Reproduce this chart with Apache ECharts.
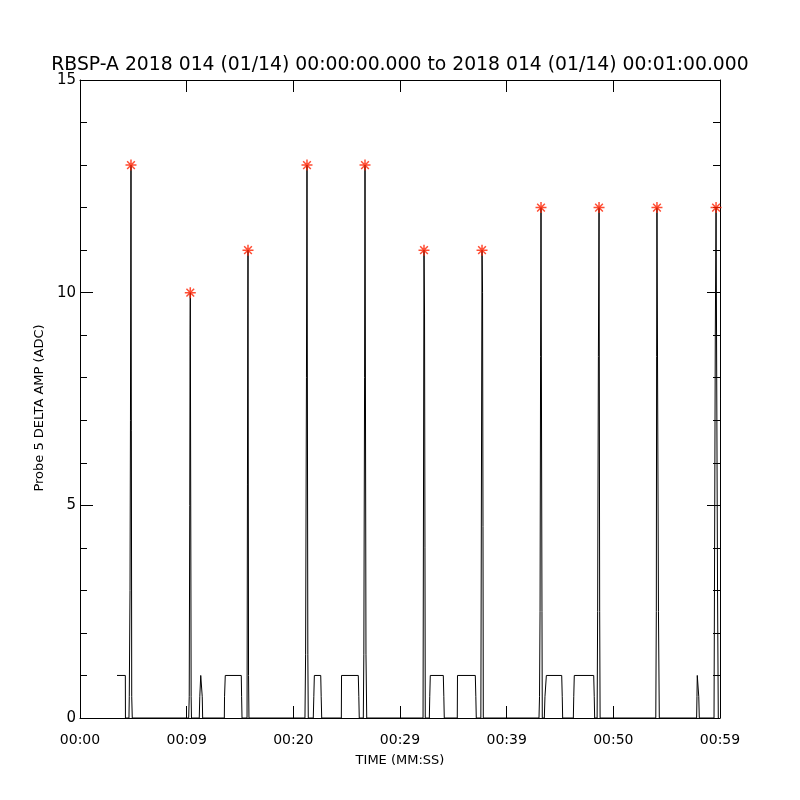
<!DOCTYPE html>
<html>
<head>
<meta charset="utf-8">
<script src="https://cdn.jsdelivr.net/npm/echarts@6/dist/echarts.min.js"></script>
<style>
  html, body { margin: 0; padding: 0; background: #fff; }
  #main { width: 800px; height: 800px; }
</style>
</head>
<body>
<div id="main"></div>
<script>
// time axis in seconds from 00:00:00, tick labels as printed on the plot
var xTickLabels = ["00:00", "00:09", "00:20", "00:29", "00:39", "00:50", "00:59"];

// probe 5 delta amplitude trace (seconds, ADC)
var sigT = [
  3.47, 4.25, 4.26, 4.59, 4.62, 4.69, 4.73, 4.78, 4.85, 4.90,
  10.19, 10.24, 10.29, 10.32, 10.34, 10.42, 10.45,
  11.18, 11.23, 11.32, 11.41, 11.46, 11.50,
  13.53, 13.55, 13.62, 15.12, 15.15, 15.19,
  15.66, 15.70, 15.73, 15.75, 15.80, 15.84,
  21.09, 21.15, 21.23, 21.28, 21.36, 21.40,
  21.87, 21.92, 21.97, 22.57, 22.61, 22.66,
  24.50, 24.52, 26.09, 26.14, 26.18,
  26.56, 26.61, 26.68, 26.72, 26.81, 26.88,
  32.16, 32.25, 32.30, 32.34, 32.37,
  32.75, 32.79, 32.84, 34.06, 34.11, 34.15,
  35.37, 35.39, 37.06, 37.11, 37.15,
  37.58, 37.69, 37.74, 37.78, 37.81,
  43.03, 43.08, 43.13, 43.18, 43.22, 43.31, 43.34,
  43.53, 43.59, 43.72, 45.16, 45.21, 45.25,
  46.25, 46.29, 46.34, 48.16, 48.21, 48.25,
  48.48, 48.53, 48.60, 48.66, 48.72, 48.76,
  53.98, 54.03, 54.06, 54.09, 54.23, 54.31,
  57.81, 57.84, 57.87, 57.97, 58.01, 58.06,
  59.44, 59.48, 59.56, 59.63, 59.77, 59.84, 59.91
];
var sigV = [
  1, 1, 0, 0, 0.5, 3, 7, 13, 0.5, 0,
  0, 0.5, 5, 9, 10, 0.5, 0,
  0, 0.5, 1, 1, 0.5, 0,
  0, 0.5, 1, 1, 0.5, 0,
  0, 5.5, 9.5, 11, 1, 0,
  0, 1.5, 8, 13, 1.5, 0,
  0, 0.5, 1, 1, 0.5, 0,
  0, 1, 1, 0.5, 0,
  0, 1.5, 8, 13, 1.5, 0,
  0, 11, 9.5, 4, 0,
  0, 0.5, 1, 1, 0.5, 0,
  0, 1, 1, 0.5, 0,
  0, 11, 10, 4.5, 0,
  0, 0.5, 2.5, 8.5, 12, 2.5, 0,
  0, 0.5, 1, 1, 0.5, 0,
  0, 0.5, 1, 1, 0.5, 0,
  0, 2.5, 8.5, 12, 2.5, 0,
  0, 2.5, 8.5, 12, 2.5, 0,
  0, 0.5, 1, 1, 0.5, 0,
  0, 3, 9, 12, 3, 0, 0
];

// spike maxima marked with red asterisks
var peakT = [4.78, 10.34, 15.75, 21.28, 26.72, 32.25, 37.69, 43.22, 48.66, 54.09, 59.63];
var peakV = [13, 10, 11, 13, 13, 11, 11, 12, 12, 12, 12];

var trace = sigT.map(function (t, i) { return [t, sigV[i]]; });
var peaks = peakT.map(function (t, i) { return [t, peakV[i]]; });

var FONT = "DejaVu Sans";
var asterisk = "path://M0,5L10,5M5,0L5,10M1.5,1.5L8.5,8.5M8.5,1.5L1.5,8.5";

var myChart = echarts.init(document.getElementById("main"));

function frameX(pos, showLabel) {
  return {
    type: "value",
    position: pos,
    min: 0,
    max: 60,
    interval: 10,
    axisLine: { show: true, onZero: false, lineStyle: { color: "#000", width: 1 } },
    axisTick: { show: true, inside: true, length: 12, lineStyle: { color: "#000" } },
    axisLabel: showLabel
      ? {
          fontFamily: FONT,
          fontSize: 14,
          color: "#000",
          margin: 15,
          formatter: function (v) { return xTickLabels[Math.round(v / 10)]; },
        }
      : { show: false },
    splitLine: { show: false },
  };
}

// step 5 = major ticks (long), step 1 = minor ticks (short)
function frameY(pos, step, len, showLabel) {
  return {
    type: "value",
    position: pos,
    min: 0,
    max: 15,
    interval: step,
    axisLine: { show: step === 5, onZero: false, lineStyle: { color: "#000", width: 1 } },
    axisTick: { show: true, inside: true, length: len, lineStyle: { color: "#000" } },
    axisLabel: showLabel
      ? { fontFamily: FONT, fontSize: 15, color: "#000", margin: 4 }
      : { show: false },
    splitLine: { show: false },
  };
}

var xBottom = frameX("bottom", true);
xBottom.name = "TIME (MM:SS)";
xBottom.nameLocation = "middle";
xBottom.nameGap = 36;
xBottom.nameTextStyle = { fontFamily: FONT, fontSize: 13, color: "#000" };

var yLeft = frameY("left", 5, 13, true);
yLeft.name = "Probe 5 DELTA AMP (ADC)";
yLeft.nameLocation = "middle";
yLeft.nameGap = 31;
yLeft.nameTextStyle = { fontFamily: FONT, fontSize: 13, color: "#000", padding: [0, 18, 0, 0] };

function frameSeries(xi, yi) {
  return { type: "line", xAxisIndex: xi, yAxisIndex: yi, data: [], symbol: "none" };
}

var option = {
  animation: false,
  backgroundColor: "#fff",
  title: {
    text: "RBSP-A 2018 014 (01/14) 00:00:00.000 to 2018 014 (01/14) 00:01:00.000",
    left: "center",
    top: 56,
    padding: 0,
    textStyle: { fontFamily: FONT, fontSize: 18.8, fontWeight: "normal", color: "#000" },
  },
  grid: { left: 80, right: 80, top: 80, bottom: 82 },
  xAxis: [xBottom, frameX("top", false)],
  yAxis: [
    yLeft,
    frameY("right", 5, 13, false),
    frameY("left", 1, 7, false),
    frameY("right", 1, 7, false),
  ],
  series: [
    {
      type: "line",
      data: trace,
      symbol: "none",
      lineStyle: { color: "#000", width: 1 },
      z: 2,
    },
    {
      type: "scatter",
      data: peaks,
      symbol: asterisk,
      symbolSize: 11,
      itemStyle: { color: "transparent", borderColor: "#ff2000", borderWidth: 1.5 },
      z: 3,
    },
    frameSeries(1, 1),
    frameSeries(0, 2),
    frameSeries(1, 3),
  ],
};

option && myChart.setOption(option);
</script>
</body>
</html>
